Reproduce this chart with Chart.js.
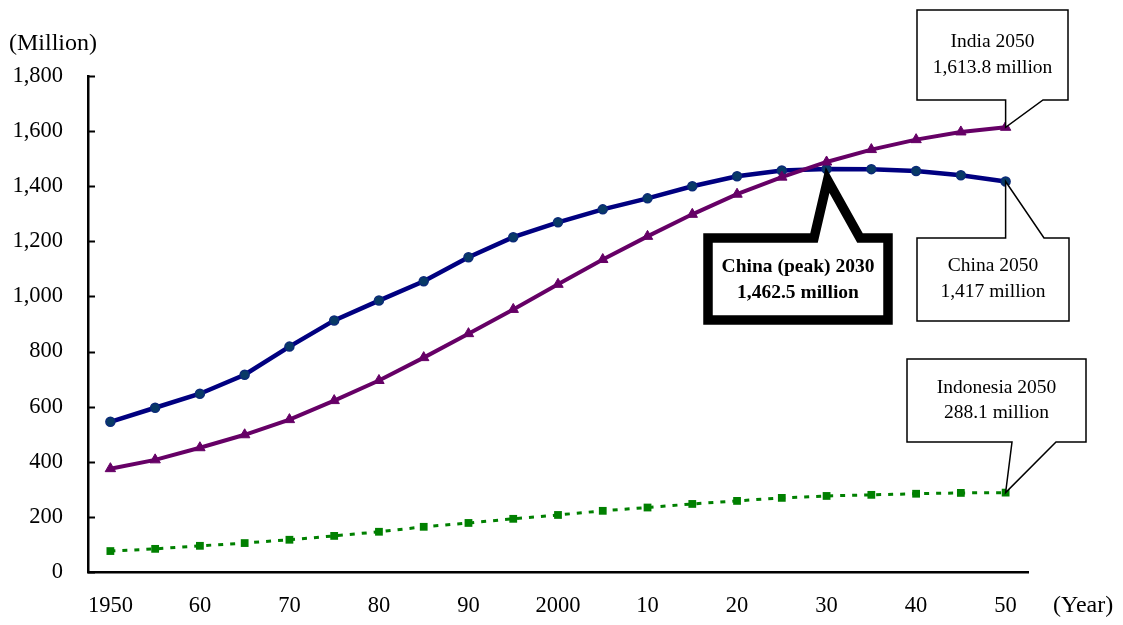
<!DOCTYPE html>
<html>
<head>
<meta charset="utf-8">
<title>Population of China, India and Indonesia, 1950-2050</title>
<script src="https://cdn.jsdelivr.net/npm/chart.js@4.4.0/dist/chart.umd.min.js"></script>
<style>
  html, body { margin: 0; padding: 0; background: #ffffff; }
  #wrap { width: 1123px; height: 625px; }
</style>
</head>
<body>
<div id="wrap"><canvas id="c" width="1123" height="625"></canvas></div>
<script>
// Population (million), every 5 years
const years = [1950, 1955, 1960, 1965, 1970, 1975, 1980, 1985, 1990, 1995, 2000,
               2005, 2010, 2015, 2020, 2025, 2030, 2035, 2040, 2045, 2050];
const china = [545, 596, 647, 716, 818, 913, 985, 1055, 1142, 1215, 1269,
               1316, 1356, 1400, 1436, 1457, 1462.5, 1462, 1455, 1440, 1417];
const india = [375, 407, 451, 498, 553, 622, 695, 778, 865, 953, 1044,
               1134, 1218, 1298, 1371, 1433, 1488, 1533, 1569, 1597, 1613.8];
const indonesia = [76, 84, 95, 105, 117, 131, 146, 164, 178, 193, 207,
                   222, 234, 247, 258, 269, 276, 280, 284, 287, 288.1];

const yTickValues = [0, 200, 400, 600, 800, 1000, 1200, 1400, 1600, 1800];
const xTickValues = [1950, 1960, 1970, 1980, 1990, 2000, 2010, 2020, 2030, 2040, 2050];

// Callout texts
const peakYear = 2030;
const peakValue = 1462.5;
const calloutIndia = ['India 2050', '1,613.8 million'];
const calloutChinaPeak = ['China (peak) 2030', '1,462.5 million'];
const calloutChina = ['China 2050', '1,417 million'];
const calloutIndonesia = ['Indonesia 2050', '288.1 million'];

const SERIF = '"Liberation Serif", "Times New Roman", "DejaVu Serif", serif';

function pts(vals) {
  return years.map((y, i) => ({ x: y, y: vals[i] }));
}

function formatYear(v) {
  if (v === 1950 || v === 2000) return String(v);
  return String(v % 100).padStart(2, '0');
}

// Speech-bubble callout: box with a wedge pointing to a data point
function drawCallout(ctx, box, wedge, tip, lineWidth, lines, font, lineYs) {
  ctx.save();
  ctx.beginPath();
  ctx.moveTo(box.l, box.t);
  if (wedge.side === 'top') {
    ctx.lineTo(wedge.x1, box.t);
    ctx.lineTo(tip.x, tip.y);
    ctx.lineTo(wedge.x2, box.t);
  }
  ctx.lineTo(box.r, box.t);
  ctx.lineTo(box.r, box.b);
  if (wedge.side === 'bottom') {
    ctx.lineTo(wedge.x2, box.b);
    ctx.lineTo(tip.x, tip.y);
    ctx.lineTo(wedge.x1, box.b);
  }
  ctx.lineTo(box.l, box.b);
  ctx.closePath();
  ctx.fillStyle = '#ffffff';
  ctx.fill();
  ctx.lineJoin = 'miter';
  ctx.miterLimit = 10;
  ctx.lineWidth = lineWidth;
  ctx.strokeStyle = '#000000';
  ctx.stroke();

  ctx.fillStyle = '#000000';
  ctx.font = font;
  ctx.textAlign = 'center';
  ctx.textBaseline = 'middle';
  const cx = (box.l + box.r) / 2;
  lines.forEach((t, i) => ctx.fillText(t, cx, lineYs[i]));
  ctx.restore();
}

const decorations = {
  id: 'decorations',
  afterDatasetsDraw(chart) {
    const { ctx, scales: { x, y } } = chart;
    const left = chart.chartArea.left;

    // inward ticks on the value axis
    ctx.save();
    ctx.strokeStyle = '#000000';
    ctx.lineWidth = 2;
    yTickValues.forEach(v => {
      const py = Math.round(y.getPixelForValue(v)) + 0.5;
      ctx.beginPath();
      ctx.moveTo(left, py);
      ctx.lineTo(left + 7, py);
      ctx.stroke();
    });
    ctx.restore();

    // axis titles
    ctx.save();
    ctx.fillStyle = '#000000';
    ctx.font = '24px ' + SERIF;
    ctx.textBaseline = 'middle';
    ctx.textAlign = 'left';
    ctx.fillText('(Million)', 9, 44);
    ctx.fillText('(Year)', 1053, 606);
    ctx.restore();

    const last = years.length - 1;
    const x2050 = x.getPixelForValue(years[last]);
    const normal = '19.5px ' + SERIF;
    const bold = 'bold 19.5px ' + SERIF;

    // India 2050
    drawCallout(ctx,
      { l: 917, t: 10, r: 1068, b: 100 },
      { side: 'bottom', x1: x2050, x2: 1043 },
      { x: x2050, y: y.getPixelForValue(india[last]) },
      1.5, calloutIndia, normal, [42, 68]);

    // China 2050
    drawCallout(ctx,
      { l: 917, t: 238, r: 1069, b: 321 },
      { side: 'top', x1: x2050, x2: 1044 },
      { x: x2050, y: y.getPixelForValue(china[last]) },
      1.5, calloutChina, normal, [266, 292]);

    // Indonesia 2050
    drawCallout(ctx,
      { l: 907, t: 359, r: 1086, b: 442 },
      { side: 'bottom', x1: 1012, x2: 1056 },
      { x: x2050, y: y.getPixelForValue(indonesia[last]) },
      1.5, calloutIndonesia, normal, [388, 413]);

    // China peak
    drawCallout(ctx,
      { l: 708, t: 238, r: 888, b: 320 },
      { side: 'top', x1: 814, x2: 860 },
      { x: x.getPixelForValue(peakYear) + 1, y: y.getPixelForValue(peakValue) + 11 },
      9.5, calloutChinaPeak, bold, [267, 293]);
  }
};

new Chart(document.getElementById('c'), {
  type: 'line',
  data: {
    datasets: [
      {
        label: 'India',
        data: pts(india),
        borderColor: '#660066',
        backgroundColor: '#660066',
        borderWidth: 4,
        pointStyle: 'triangle',
        pointRadius: 6,
        pointBorderWidth: 1,
        pointBorderColor: '#660066',
        pointBackgroundColor: '#660066',
        tension: 0
      },
      {
        label: 'China',
        data: pts(china),
        borderColor: '#000080',
        backgroundColor: '#000080',
        borderWidth: 4.5,
        pointStyle: 'circle',
        pointRadius: 4.5,
        pointBorderWidth: 1.5,
        pointBorderColor: '#0a2a78',
        pointBackgroundColor: '#083a66',
        tension: 0
      },
      {
        label: 'Indonesia',
        data: pts(indonesia),
        borderColor: '#008000',
        backgroundColor: '#008000',
        borderWidth: 3,
        borderDash: [5, 7],
        pointStyle: 'rect',
        pointRadius: 5.5,
        pointBorderWidth: 0,
        pointBackgroundColor: '#008000',
        tension: 0
      }
    ]
  },
  options: {
    responsive: false,
    animation: false,
    devicePixelRatio: 1,
    layout: { padding: { top: 76, left: 0, right: 95, bottom: 0 } },
    plugins: {
      legend: { display: false },
      tooltip: { enabled: false }
    },
    scales: {
      x: {
        type: 'linear',
        min: 1947.5,
        max: 2052.5,
        afterBuildTicks(scale) {
          scale.ticks = xTickValues.map(v => ({ value: v }));
        },
        afterFit(scale) { scale.height = 53; },
        grid: { display: false, drawTicks: false },
        border: { display: true, color: '#000000', width: 2.5 },
        ticks: {
          padding: 21,
          color: '#000000',
          font: { family: SERIF, size: 22.5 },
          maxRotation: 0,
          autoSkip: false,
          callback: v => formatYear(v)
        }
      },
      y: {
        min: 0,
        max: 1800,
        afterBuildTicks(scale) {
          scale.ticks = yTickValues.map(v => ({ value: v }));
        },
        afterFit(scale) { scale.width = 88; },
        grid: { display: false, drawTicks: false },
        border: { display: true, color: '#000000', width: 2.5 },
        ticks: {
          padding: 25,
          color: '#000000',
          font: { family: SERIF, size: 22.5 },
          callback: v => v.toLocaleString('en-US')
        }
      }
    }
  },
  plugins: [decorations]
});
</script>
</body>
</html>
